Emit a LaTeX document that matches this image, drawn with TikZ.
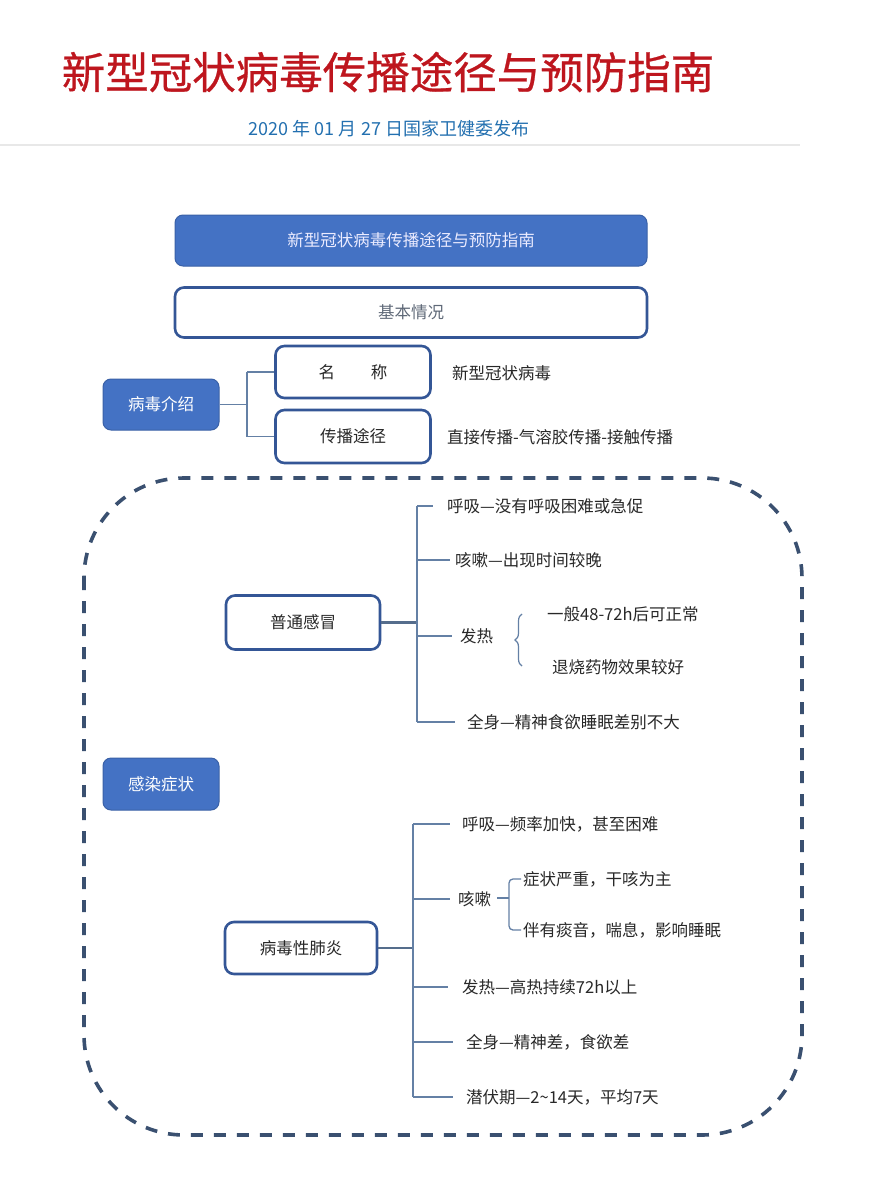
\documentclass[tikz,border=0pt]{standalone}
\usepackage{fontspec}
\setmainfont{Noto Sans CJK SC}
\newfontfamily\titlefont[FakeBold=0.6]{Noto Sans CJK SC}
\usetikzlibrary{decorations.pathreplacing}
\definecolor{titlered}{RGB}{190,22,30}
\definecolor{subblue}{RGB}{35,112,176}
\definecolor{boxblue}{RGB}{68,114,196}
\definecolor{borderblue}{RGB}{52,86,150}
\definecolor{lineblue}{RGB}{100,128,165}
\definecolor{dashblue}{RGB}{58,80,112}
\definecolor{txt}{RGB}{40,40,40}
\definecolor{graytxt}{RGB}{95,105,120}
\tikzset{
  fillbox/.style={rectangle, rounded corners=8pt, fill=boxblue, draw=boxblue!85!black, line width=1pt,
    text=white, font=\fontsize{16.5}{18}\selectfont, inner sep=0pt},
  linebox/.style={rectangle, rounded corners=9pt, fill=white, draw=borderblue, line width=2.6pt,
    text=txt, font=\fontsize{16.5}{18}\selectfont, inner sep=0pt},
  lbl/.style={anchor=west, inner sep=0pt, text=txt, font=\fontsize{16.5}{18}\selectfont},
  conn/.style={draw=lineblue, line width=1.6pt},
  connthick/.style={draw=lineblue!85!black, line width=2.6pt},
}
\begin{document}
\begin{tikzpicture}[x=1pt,y=-1pt]
\useasboundingbox (0,0) rectangle (869,1204);
\fill[white] (0,0) rectangle (869,1204);

% header
\node[inner sep=0pt, text=titlered, font=\titlefont\fontsize{43.5}{46}\selectfont] (title) at (388,72) {新型冠状病毒传播途径与预防指南};
\node[inner sep=0pt, text=subblue, font=\fontsize{18}{20}\selectfont] (sub) at (389,129) {2020 年 01 月 27 日国家卫健委发布};
\draw[gray!18, line width=1.5pt] (0,145) -- (800,145);

% top boxes
\node[fillbox, minimum width=472pt, minimum height=51pt, text=white!92!blue] (main) at (411,240.5) {新型冠状病毒传播途径与预防指南};
\node[linebox, minimum width=472pt, minimum height=50pt, text=graytxt] (basic) at (411,312.5) {基本情况};

% virus introduction
\node[fillbox, minimum width=116pt, minimum height=51pt] (intro) at (161,404.5) {病毒介绍};
\node[linebox, minimum width=155pt, minimum height=52pt] (name) at (353,372) {名\hspace{36pt}称};
\node[linebox, minimum width=155pt, minimum height=53pt] (route) at (353,436.5) {传播途径};
\node[lbl] (namev) at (452,373) {新型冠状病毒};
\node[lbl] (routev) at (447,437) {直接传播-气溶胶传播-接触传播};
\coordinate (ji) at (247,404.5);
\draw[conn] (intro.east) -- (ji);
\draw[conn] (ji |- name.west) -- (ji |- route.west);
\draw[conn] (ji |- name.west) -- (name.west);
\draw[conn] (ji |- route.west) -- (route.west);

% dashed frame
\draw[dashblue, line width=3.6pt, dash pattern=on 12pt off 11pt, rounded corners=100pt] (84,478) rectangle (802,1135);

\node[fillbox, minimum width=116pt, minimum height=52pt] (symp) at (161,784) {感染症状};

% common cold
\node[linebox, minimum width=154pt, minimum height=54pt] (cold) at (303,622.5) {普通感冒};
\node[lbl] (c1) at (447,506) {呼吸—没有呼吸困难或急促};
\node[lbl] (c2) at (455,560) {咳嗽—出现时间较晚};
\node[lbl] (c3) at (460,636) {发热};
\node[lbl] (c3a) at (547,614) {一般48-72h后可正常};
\node[lbl] (c3b) at (552,667) {退烧药物效果较好};
\node[lbl] (c4) at (467,722) {全身—精神食欲睡眠差别不大};
\coordinate (jc) at (417,622.5);
\draw[connthick] (cold.east) -- (jc);
\draw[conn] (jc |- c1.west) -- (jc |- c4.west);
\draw[conn] (jc |- c1.west) -- ([xshift=-14pt]c1.west);
\draw[conn] (jc |- c2.west) -- ([xshift=-5pt]c2.west);
\draw[conn] (jc |- c3.west) -- ([xshift=-8pt]c3.west);
\draw[conn] (jc |- c4.west) -- ([xshift=-12pt]c4.west);
\coordinate (bct) at (522,614);
\coordinate (bcb) at (522,666);
\draw[lineblue, line width=1.2pt, decorate, decoration={brace, amplitude=7pt}] (bcb) -- (bct);

% viral pneumonia
\node[linebox, minimum width=152pt, minimum height=52pt] (pn) at (301,948) {病毒性肺炎};
\node[lbl] (p1) at (462,824) {呼吸—频率加快，甚至困难};
\node[lbl] (p2) at (458,899) {咳嗽};
\node[lbl] (p2a) at (523,879) {症状严重，干咳为主};
\node[lbl] (p2b) at (523,930) {伴有痰音，喘息，影响睡眠};
\node[lbl] (p3) at (462,987) {发热—高热持续72h以上};
\node[lbl] (p4) at (466,1042) {全身—精神差，食欲差};
\node[lbl] (p5) at (466,1097) {潜伏期—2\char"007E 14天，平均7天};
\coordinate (jp) at (413,948);
\draw[connthick] (pn.east) -- (jp);
\draw[conn] (jp |- p1.west) -- (jp |- p5.west);
\draw[conn] (jp |- p1.west) -- ([xshift=-12pt]p1.west);
\draw[conn] (jp |- p2.west) -- ([xshift=-8pt]p2.west);
\draw[conn] (jp |- p3.west) -- ([xshift=-14pt]p3.west);
\draw[conn] (jp |- p4.west) -- ([xshift=-13pt]p4.west);
\draw[conn] (jp |- p5.west) -- ([xshift=-13pt]p5.west);
\coordinate (bp) at (509,898);
\draw[lineblue, line width=1.3pt] ([xshift=6pt]p2.east |- bp) -- (bp);
\draw[lineblue, line width=1.3pt, rounded corners=4pt] ([xshift=-2pt]p2a.west) -| (bp) |- ([xshift=-2pt]p2b.west);
\end{tikzpicture}
\end{document}
